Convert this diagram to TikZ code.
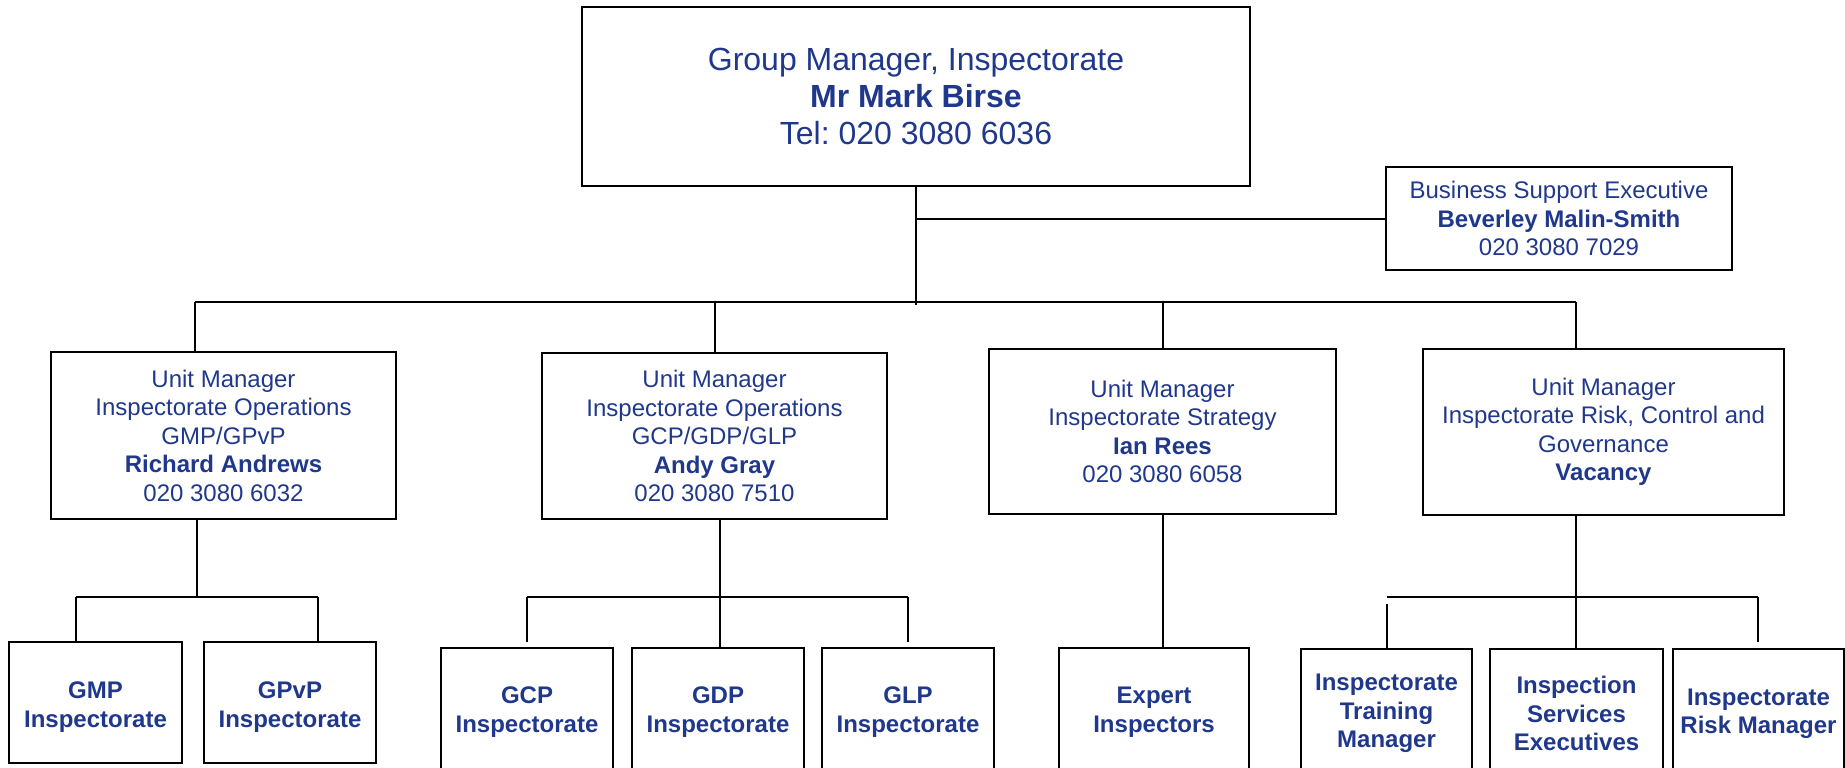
\documentclass[tikz,border=0pt]{standalone}
\usepackage{fontspec}
\setmainfont{Liberation Sans}
\definecolor{txtblue}{RGB}{32,56,140}
\frenchspacing
\begin{document}
\begin{tikzpicture}[x=1pt,y=-1pt,
  box/.style={draw=black, line width=2pt, rectangle, inner sep=0pt, align=center, text=txtblue},
  big/.style={font=\fontsize{32}{37}\selectfont},
  mid/.style={font=\fontsize{24}{28.5}\selectfont},
  lbl/.style={inner sep=0pt, align=center, text=txtblue, font=\fontsize{24}{28.5}\selectfont\bfseries},
  conn/.style={line width=2pt}]
\useasboundingbox (0,0) rectangle (1845,768);
\clip (0,0) rectangle (1845,768);

% top level
\node[box,big,minimum width=668pt,minimum height=179pt] (top) at (916,96.5)
  {Group Manager, Inspectorate\\\textbf{Mr Mark Birse}\\Tel: 020 3080 6036};
\node[box,mid,minimum width=346pt,minimum height=103pt] (bse) at (1559,218.5)
  {Business Support Executive\\\textbf{Beverley Malin-Smith}\\020 3080 7029};

% unit managers
\node[box,mid,minimum width=345pt,minimum height=167pt] (um1) at (223.5,435.5)
  {Unit Manager\\Inspectorate Operations\\GMP/GPvP\\\textbf{Richard Andrews}\\020 3080 6032};
\node[box,mid,minimum width=345pt,minimum height=166pt] (um2) at (714.5,436)
  {Unit Manager\\Inspectorate Operations\\GCP/GDP/GLP\\\textbf{Andy Gray}\\020 3080 7510};
\node[box,mid,minimum width=347pt,minimum height=165pt] (um3) at (1162.5,431.5)
  {Unit Manager\\Inspectorate Strategy\\\textbf{Ian Rees}\\020 3080 6058};
\node[box,mid,minimum width=361pt,minimum height=166pt] (um4) at (1603.5,432)
  {Unit Manager\\Inspectorate Risk, Control and\\Governance\\\textbf{Vacancy}};

% bottom row boxes
\node[box,minimum width=173pt,minimum height=121pt] (gmp) at (95.5,702.5) {};
\node[box,minimum width=172pt,minimum height=121pt] (gpvp) at (290,702.5) {};
\node[box,minimum width=172pt,minimum height=124pt] (gcp) at (527,710) {};
\node[box,minimum width=172pt,minimum height=124pt] (gdp) at (718,710) {};
\node[box,minimum width=172pt,minimum height=124pt] (glp) at (908,710) {};
\node[box,minimum width=190pt,minimum height=124pt] (expert) at (1154,710) {};
\node[box,minimum width=171pt,minimum height=126pt] (train) at (1386.5,712) {};
\node[box,minimum width=173pt,minimum height=126pt] (serv) at (1576.5,712) {};
\node[box,minimum width=171pt,minimum height=126pt] (risk) at (1758.5,712) {};

% bottom row texts
\node[lbl] (gmpT) at (95.5,707) {GMP\\Inspectorate};
\node[lbl] (gpvpT) at (290,707) {GPvP\\Inspectorate};
\node[lbl] (gcpT) at (527,712) {GCP\\Inspectorate};
\node[lbl] (gdpT) at (718,712) {GDP\\Inspectorate};
\node[lbl] (glpT) at (908,712) {GLP\\Inspectorate};
\node[lbl] (expertT) at (1154,712) {Expert\\Inspectors};
\node[lbl] (trainT) at (1386.5,713.5) {Inspectorate\\Training\\Manager};
\node[lbl] (servT) at (1576.5,713.5) {Inspection\\Services\\Executives};
\node[lbl] (riskT) at (1758.5,714) {Inspectorate\\Risk Manager};

% connectors: top level
\coordinate (topend) at (916,305);
\coordinate (mainL) at (195,302);
\coordinate (mainR) at (1576,302);
\draw[conn] (top.south) -- (topend);
\draw[conn] (top.south |- bse.west) -- (bse.west);
\draw[conn] (mainL) -- (mainR);
\draw[conn] (mainL) -- (mainL |- um1.north);
\draw[conn] (um2.north |- mainL) -- (um2.north);
\draw[conn] (um3.north |- mainL) -- (um3.north);
\draw[conn] (mainR) -- (mainR |- um4.north);

% unit 1
\coordinate (j1) at (197,597);
\coordinate (j1L) at (76,597);
\coordinate (j1R) at (318,597);
\draw[conn] (j1 |- um1.south) -- (j1);
\draw[conn] (j1L) -- (j1R);
\draw[conn] (j1L) -- (j1L |- gmp.north);
\draw[conn] (j1R) -- (j1R |- gpvp.north);

% unit 2
\coordinate (j2) at (720,597);
\coordinate (j2L) at (527,597);
\coordinate (j2R) at (908,597);
\coordinate (j2Lb) at (527,642);
\coordinate (j2Rb) at (908,642);
\draw[conn] (j2 |- um2.south) -- (j2 |- gdp.north);
\draw[conn] (j2L) -- (j2R);
\draw[conn] (j2L) -- (j2Lb);
\draw[conn] (j2R) -- (j2Rb);

% unit 3
\draw[conn] (um3.south) -- (um3.south |- expert.north);

% unit 4
\coordinate (j4) at (1576,597);
\coordinate (j4L) at (1387,597);
\coordinate (j4R) at (1758,597);
\coordinate (j4Lt) at (1387,604);
\coordinate (j4Rb) at (1758,642);
\draw[conn] (j4 |- um4.south) -- (j4 |- serv.north);
\draw[conn] (j4L) -- (j4R);
\draw[conn] (j4Lt) -- (j4Lt |- train.north);
\draw[conn] (j4R) -- (j4Rb);
\end{tikzpicture}
\end{document}
